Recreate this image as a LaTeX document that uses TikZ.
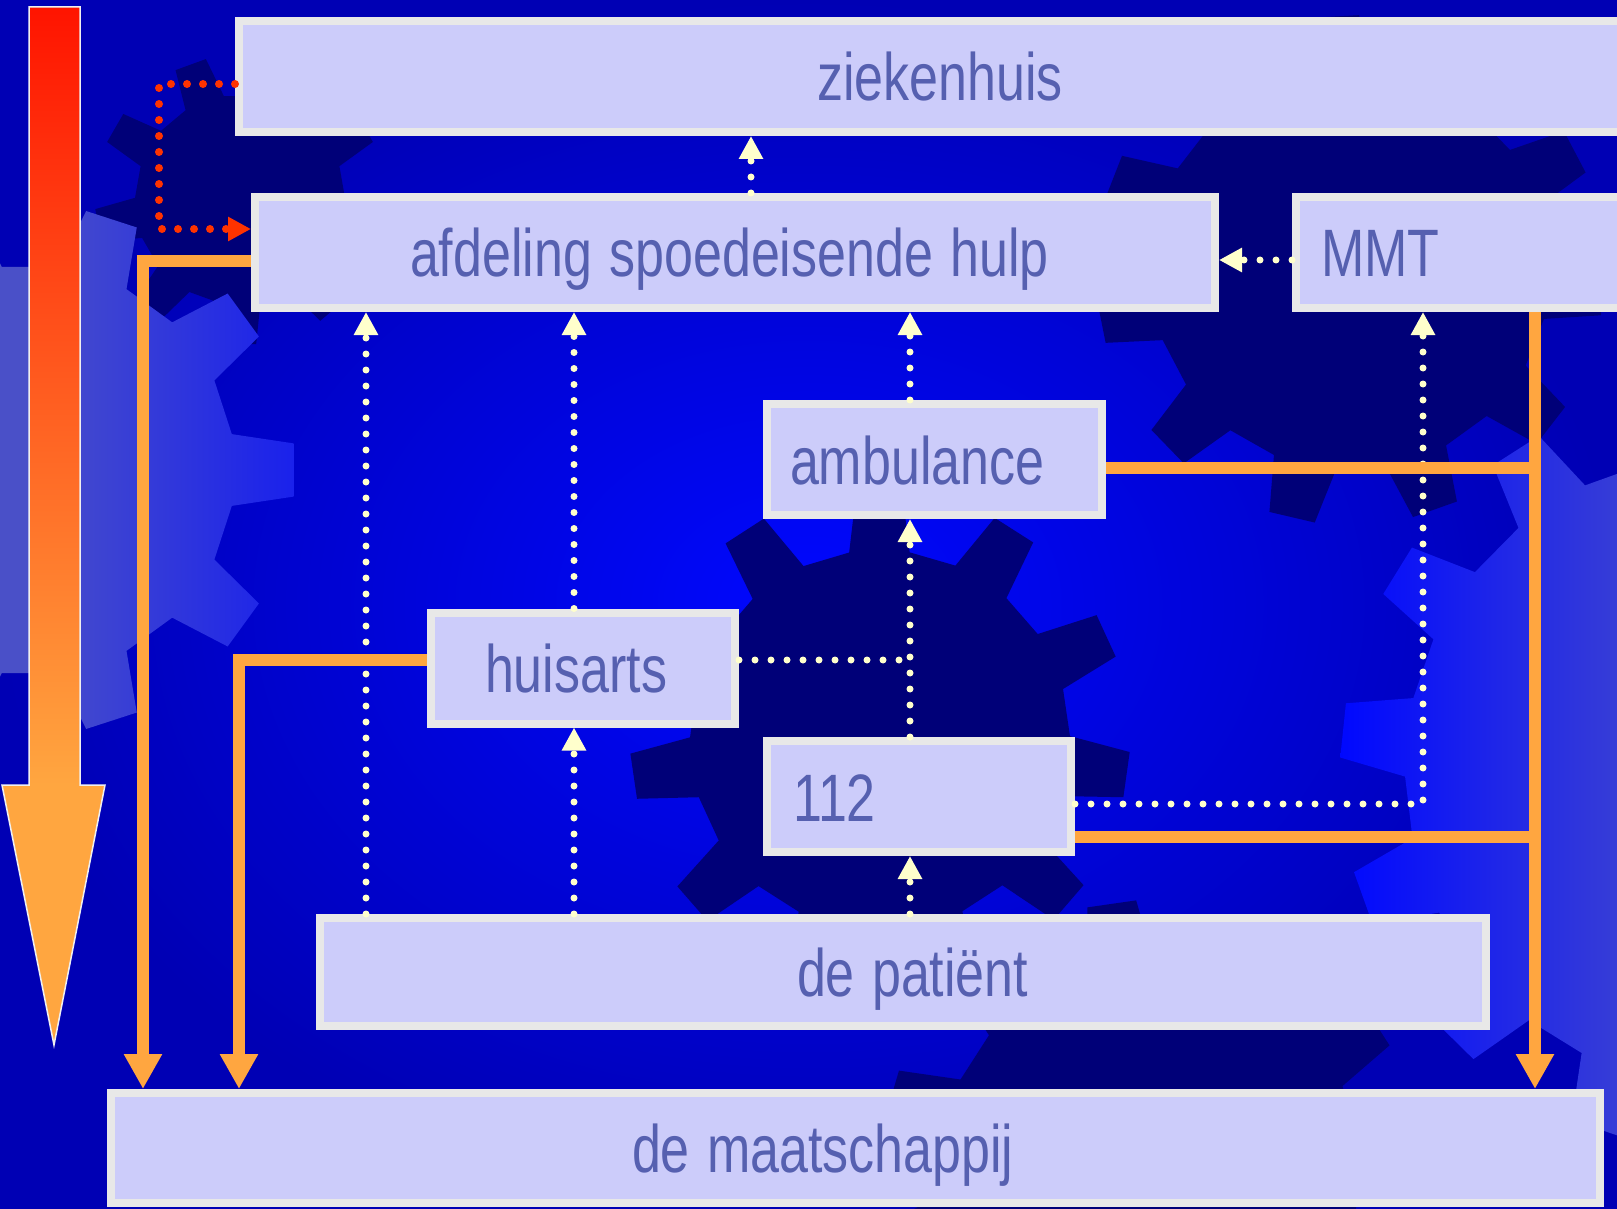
\documentclass[tikz,border=0pt]{standalone}
\usepackage{fontspec}
\setmainfont{Liberation Sans}
\usepackage{graphicx}
\usetikzlibrary{arrows.meta}

\definecolor{bgbright}{HTML}{0008FF}
\definecolor{bgdark}{HTML}{0000B4}
\definecolor{navy}{HTML}{000078}
\definecolor{lavender}{HTML}{4A50C8}
\definecolor{boxfill}{HTML}{CCCCFA}
\definecolor{boxrim}{HTML}{E8E8E8}
\definecolor{boxtext}{HTML}{5660B0}
\definecolor{cream}{HTML}{FFFFCC}
\definecolor{lineorange}{HTML}{FFA640}
\definecolor{trailred}{HTML}{FF3300}
\definecolor{arrowred}{HTML}{FF1400}

\newcommand{\tall}[1]{\scalebox{1}[1.29]{#1}}
\newcommand{\gear}[7]{%
  \pgfmathsetmacro\gearstep{360/#5}
  \pgfmathtruncatemacro\gearlast{#5-1}
  \begin{scope}[shift={(#1,#2)}]
    \path[#7] (#6-0.28*\gearstep:#3)
      \foreach \k in {0,...,\gearlast}{
        -- (#6+\k*\gearstep-0.16*\gearstep:#4)
        -- (#6+\k*\gearstep+0.16*\gearstep:#4)
        -- (#6+\k*\gearstep+0.28*\gearstep:#3)
        -- (#6+\k*\gearstep+0.72*\gearstep:#3)
      } -- cycle;
  \end{scope}}

\begin{document}
\begin{tikzpicture}[x=0.5pt, y=-0.5pt,
    unit/.style={draw=boxrim, fill=boxfill, line width=4pt, text=boxtext,
      font=\fontsize{26pt}{30pt}\selectfont, align=left, inner ysep=0pt,
      text height=30.5pt, text depth=6pt, minimum height=55.5pt},
    referral/.style={cream, line width=3.5pt, dash pattern=on 0pt off 8pt, line cap=round,
      -{Triangle[width=11.5pt,length=11.5pt]}},
    escalate/.style={trailred, line width=4pt, dash pattern=on 0pt off 8pt, line cap=round,
      -{Triangle[width=11.5pt,length=11.5pt]}},
    flow/.style={lineorange, line width=6pt},
    flowdown/.style={flow, -{Triangle[width=18pt,length=17.5pt]}}]
  \useasboundingbox (0,0) rectangle (1617,1209);
  \clip (0,0) rectangle (1617,1209);

  \shade[inner color=bgbright, outer color=bgdark] (0,0) rectangle (1617,1209);
  \gear{240}{200}{105}{145}{9}{10}{fill=navy}
  \gear{1350}{270}{200}{255}{11}{5}{fill=navy}
  \gear{880}{740}{190}{250}{11}{8}{fill=navy}
  \gear{1150}{1170}{210}{270}{11}{0}{fill=navy}
  \gear{30}{470}{205}{265}{10}{0}{left color=lavender, right color=lavender!35!bgbright, middle color=lavender}
  \gear{1720}{770}{315}{380}{14}{6}{left color=bgbright, right color=lavender, middle color=lavender}

  \shade[top color=arrowred, bottom color=lineorange] (29,7) rectangle (80,785);
  \fill[lineorange] (2,785) -- (105,785) -- (54,1045) -- cycle;
  \draw[white!94!black, line width=0.75pt] (29,7) -- (80,7) -- (80,785) -- (105,785)
    -- (54,1045) -- (2,785) -- (29,785) -- cycle;

  \node[unit, minimum width=704pt, inner xsep=289pt, text width=126pt] (zkh) at (943,76.5) {\tall{ziekenhuis}};
  \node[unit, minimum width=480pt, inner xsep=77.5pt, text width=325pt] (seh) at (735,252.5) {\tall{afdeling spoedeisende hulp}};
  \node[unit, minimum width=180pt, inner xsep=12.5pt, text width=155pt] (mmt) at (1476,252.5) {\tall{MMT}};
  \node[unit, minimum width=167.5pt, inner xsep=11.5pt, text width=144.5pt] (amb) at (934.5,459.5) {\tall{ambulance}};
  \node[unit, minimum width=152pt, inner xsep=27pt, text width=98pt] (hsa) at (583,668) {\tall{huisarts}};
  \node[unit, minimum width=152pt, inner xsep=13pt, text width=126pt] (n112) at (919,796.5) {\tall{112}};
  \node[unit, minimum width=583pt, minimum height=54pt, inner xsep=238.5pt, text width=106pt] (pat) at (903,972) {\tall{de patiënt}};
  \node[unit, minimum width=744.5pt, minimum height=55pt, inner xsep=260.5pt, text width=223.5pt] (maat) at (855.5,1148) {\tall{de maatschappij}};

  \coordinate (xa) at (751,0);
  \coordinate (xb) at (366,0);
  \coordinate (xc) at (574,0);
  \coordinate (xd) at (910,0);
  \coordinate (xe) at (1423,0);
  \coordinate (xf) at (1535,0);
  \coordinate (xg) at (143,0);
  \coordinate (xh) at (239,0);
  \coordinate (xr) at (159,0);
  \coordinate (zkhout) at ([yshift=-3.75pt]zkh.west);
  \coordinate (sehin) at ([yshift=11.75pt]seh.west);
  \coordinate (sehout) at ([yshift=-4.25pt]seh.west);
  \coordinate (mmtout) at ([yshift=-3.75pt]mmt.west);
  \coordinate (ambout) at ([yshift=-4.25pt]amb.east);
  \coordinate (hsaout) at ([yshift=4pt]hsa.east);
  \coordinate (hsaleft) at ([yshift=4pt]hsa.west);
  \coordinate (callout) at ([yshift=-3.75pt]n112.east);
  \coordinate (n112out) at ([yshift=-20.25pt]n112.east);

  \draw[escalate] (zkhout) -| (xr |- sehin) -- (sehin);

  \draw[referral] (xa |- seh.north) -- (xa |- zkh.south);
  \draw[referral] (mmtout) -- (mmtout -| seh.east);
  \draw[referral] (xb |- pat.north) -- (xb |- seh.south);
  \draw[referral] (xc |- hsa.north) -- (xc |- seh.south);
  \draw[referral] (xc |- pat.north) -- (xc |- hsa.south);
  \draw[referral] (xd |- amb.north) -- (xd |- seh.south);
  \draw[referral] (xd |- n112.north) -- (xd |- amb.south);
  \draw[referral] (xd |- pat.north) -- (xd |- n112.south);
  \draw[referral, -] (hsaout) -- (hsaout -| xd);
  \draw[referral] (callout) -| (xe |- mmt.south);

  \draw[flowdown] (sehout) -| (xg |- maat.north);
  \draw[flowdown] (hsaleft) -| (xh |- maat.north);
  \draw[flowdown] (xf |- mmt.south) -- (xf |- maat.north);
  \draw[flow] (ambout) -- (ambout -| xf);
  \draw[flow] (n112out) -- (n112out -| xf);
\end{tikzpicture}
\end{document}
